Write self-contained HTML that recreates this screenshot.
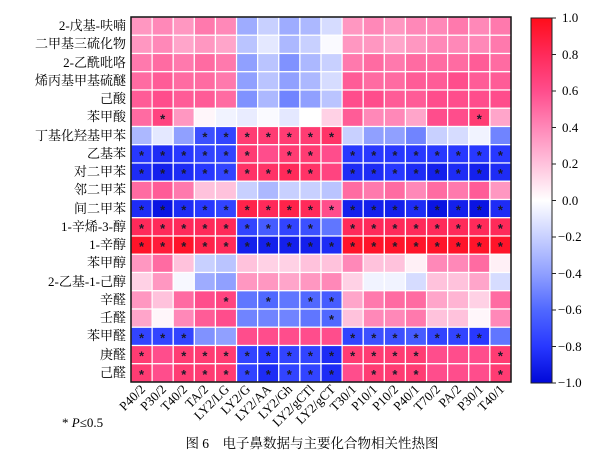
<!DOCTYPE html>
<html><head><meta charset="utf-8"><style>
body{margin:0;background:#fff;width:611px;height:461px;overflow:hidden}
svg{display:block}
.rl{font-family:"Liberation Serif","Noto Serif CJK SC",serif;font-size:13px;text-anchor:end}
.cl{font-family:"Liberation Serif",serif;font-size:13px}
</style></head><body>
<svg id="s" width="611" height="461" xmlns="http://www.w3.org/2000/svg">
<defs><linearGradient id="cb" x1="0" y1="0" x2="0" y2="1">
<stop offset="0" stop-color="#ff0d1a"/><stop offset="0.1" stop-color="#ff2a5a"/><stop offset="0.2" stop-color="#ff4d8c"/><stop offset="0.3" stop-color="#ff88b8"/><stop offset="0.4" stop-color="#ffc2dc"/><stop offset="0.5" stop-color="#ffffff"/><stop offset="0.6" stop-color="#c8d0ff"/><stop offset="0.7" stop-color="#90a0ff"/><stop offset="0.8" stop-color="#5068ff"/><stop offset="0.9" stop-color="#2838ff"/><stop offset="1" stop-color="#0008d8"/></linearGradient></defs>
<g id="cells"></g>
<rect x="131" y="17" width="380" height="365" fill="none" stroke="#111" stroke-width="1.5"/>
<g class="rl">
<text x="126" y="30">2-戊基-呋喃</text><text x="126" y="48">二甲基三硫化物</text><text x="126" y="67">2-乙酰吡咯</text><text x="126" y="85">烯丙基甲基硫醚</text><text x="126" y="103">己酸</text><text x="126" y="121">苯甲酸</text><text x="126" y="140">丁基化羟基甲苯</text><text x="126" y="158">乙基苯</text><text x="126" y="176">对二甲苯</text><text x="126" y="194">邻二甲苯</text><text x="126" y="213">间二甲苯</text><text x="126" y="231">1-辛烯-3-醇</text><text x="126" y="249">1-辛醇</text><text x="126" y="267">苯甲醇</text><text x="126" y="286">2-乙基-1-己醇</text><text x="126" y="304">辛醛</text><text x="126" y="322">壬醛</text><text x="126" y="340">苯甲醛</text><text x="126" y="359">庚醛</text><text x="126" y="377">己醛</text>
</g>
<g class="rl" id="xl">
<text transform="translate(146,390) rotate(-45)">P40/2</text><text transform="translate(167,390) rotate(-45)">P30/2</text><text transform="translate(188,390) rotate(-45)">T40/2</text><text transform="translate(209,390) rotate(-45)">TA/2</text><text transform="translate(230,390) rotate(-45)">LY2/LG</text><text transform="translate(251,390) rotate(-45)">LY2/G</text><text transform="translate(272,390) rotate(-45)">LY2/AA</text><text transform="translate(293,390) rotate(-45)">LY2/Gh</text><text transform="translate(315,390) rotate(-45)">LY2/gCTl</text><text transform="translate(336,390) rotate(-45)">LY2/gCT</text><text transform="translate(357,390) rotate(-45)">T30/1</text><text transform="translate(378,390) rotate(-45)">P10/1</text><text transform="translate(399,390) rotate(-45)">P10/2</text><text transform="translate(420,390) rotate(-45)">P40/1</text><text transform="translate(441,390) rotate(-45)">T70/2</text><text transform="translate(462,390) rotate(-45)">PA/2</text><text transform="translate(484,390) rotate(-45)">P30/1</text><text transform="translate(505,390) rotate(-45)">T40/1</text>
</g>
<rect x="531" y="18" width="21" height="365" fill="url(#cb)" stroke="#222" stroke-width="1"/>
<g stroke="#222" stroke-width="1">
<line x1="552" x2="556" y1="18" y2="18"/><line x1="552" x2="556" y1="54.5" y2="54.5"/><line x1="552" x2="556" y1="91" y2="91"/><line x1="552" x2="556" y1="127.5" y2="127.5"/><line x1="552" x2="556" y1="164" y2="164"/><line x1="552" x2="556" y1="200.5" y2="200.5"/><line x1="552" x2="556" y1="237" y2="237"/><line x1="552" x2="556" y1="273.5" y2="273.5"/><line x1="552" x2="556" y1="310" y2="310"/><line x1="552" x2="556" y1="346.5" y2="346.5"/><line x1="552" x2="556" y1="383" y2="383"/></g>
<g class="cl">
<text x="562" y="22">1.0</text><text x="562" y="59">0.8</text><text x="562" y="95">0.6</text><text x="562" y="132">0.4</text><text x="562" y="168">0.2</text><text x="562" y="205">0.0</text><text x="558" y="241">−0.2</text><text x="558" y="278">−0.4</text><text x="558" y="314">−0.6</text><text x="558" y="351">−0.8</text><text x="558" y="387">−1.0</text>
</g>
<text x="62" y="427" class="cl">* <tspan font-style="italic">P</tspan>≤0.5</text>
<text x="312" y="448" text-anchor="middle" style="font-family:'Liberation Serif','Noto Serif CJK SC',serif;font-size:13.5px">图 6　电子鼻数据与主要化合物相关性热图</text>
</svg>
<script>
var V=[
[.35,.4,.35,.45,.4,-.35,-.2,-.35,-.3,-.15,.35,.4,.35,.4,.4,.45,.4,.45],
[.35,.4,.3,.35,.3,-.25,-.1,-.3,-.2,-.02,.35,.35,.3,.35,.4,.4,.4,.45],
[.45,.5,.45,.5,.45,-.4,-.25,-.45,-.3,-.2,.45,.5,.45,.5,.5,.5,.55,.5],
[.5,.55,.5,.5,.45,-.4,-.25,-.4,-.3,-.15,.55,.5,.5,.55,.55,.6,.55,.55],
[.55,.6,.55,.55,.5,-.45,-.3,-.5,-.4,-.25,.6,.6,.55,.55,.6,.6,.6,.6],
[.5,.65,.35,.03,-.05,-.08,-.02,-.1,0,.15,.55,.4,.4,.3,.6,.6,.7,.3],
[-.3,-.1,-.4,-.7,-.75,.7,.7,.7,.7,.75,-.2,-.4,-.4,-.5,-.2,-.15,-.05,-.5],
[-.8,-.85,-.8,-.75,-.75,.7,.6,.7,.7,.6,-.8,-.8,-.8,-.8,-.8,-.8,-.8,-.8],
[-.85,-.9,-.85,-.8,-.75,.75,.75,.8,.75,.65,-.85,-.85,-.8,-.85,-.9,-.85,-.9,-.85],
[.5,.55,.45,.2,.2,-.2,-.3,-.2,-.2,-.25,.5,.45,.5,.4,.5,.45,.55,.35],
[-.85,-.95,-.85,-.8,-.75,.85,.8,.85,.8,.6,-.9,-.9,-.9,-.85,-.95,-.9,-.95,-.85],
[.8,.8,.8,.8,.8,-.75,-.65,-.75,-.7,-.55,.8,.8,.8,.8,.8,.8,.8,.8],
[.95,.9,.95,.85,.8,-.9,-.9,-.9,-.9,-.85,.95,.95,.95,.95,.95,.95,.95,.95],
[.35,.5,.2,-.2,-.25,.2,.15,.15,.2,.2,.4,.2,.2,.05,.4,.4,.5,.05],
[.15,.35,-.03,-.35,-.4,.35,.35,.3,.35,.4,.15,-.05,-.05,-.15,.2,.2,.3,-.15],
[.35,.2,.5,.6,.65,-.55,-.6,-.55,-.6,-.65,.3,.45,.5,.5,.3,.25,.15,.5],
[.3,.03,.4,.55,.6,-.5,-.5,-.5,-.55,-.6,.2,.4,.4,.45,.2,.2,.03,.4],
[-.75,-.75,-.75,-.45,-.4,.6,.6,.6,.6,.6,-.75,-.7,-.7,-.65,-.75,-.75,-.8,-.55],
[.7,.6,.7,.7,.7,-.75,-.8,-.75,-.75,-.85,.7,.7,.7,.7,.6,.6,.6,.7],
[.7,.6,.7,.7,.7,-.75,-.85,-.75,-.75,-.85,.6,.7,.7,.7,.6,.6,.6,.7]];
var S={5:[1,16],6:[3,4,5,6,7,8,9],7:[0,1,2,3,4,5,7,8,10,11,12,13,14,15,16,17],8:[0,1,2,3,4,5,6,7,8,10,11,12,13,14,15,16,17],
10:'all',11:[0,1,2,3,4,5,6,7,8,10,11,12,13,14,15,16,17],12:'all',15:[4,6,8,9],16:[9],17:[0,1,2,10,11,12,13,14,15,16],
18:[0,2,3,4,5,6,7,8,9,10,11,12,13,17],19:[0,2,3,4,5,6,7,8,9,11,12,13,17]};
var st=[[1,[255,13,26]],[.8,[255,42,90]],[.6,[255,77,140]],[.4,[255,136,184]],[.2,[255,194,220]],[0,[255,255,255]],[-.2,[200,208,255]],[-.4,[144,160,255]],[-.6,[80,104,255]],[-.8,[40,56,255]],[-1,[0,8,216]]];
function col(v){for(var i=0;i<st.length-1;i++){var a=st[i],b=st[i+1];if(v<=a[0]&&v>=b[0]){var t=(a[0]-v)/(a[0]-b[0]);return 'rgb('+a[1].map(function(c,k){return Math.round(c+(b[1][k]-c)*t)}).join(',')+')';}}return '#fff';}
var g=document.getElementById('cells'),h='',w=380/18,hh=365/20;
for(var r=0;r<20;r++)for(var c=0;c<18;c++){var x=131+c*w,y=17+r*hh;
h+='<rect x="'+x+'" y="'+y+'" width="'+w+'" height="'+hh+'" fill="'+col(V[r][c])+'" stroke="#fff" stroke-width="1.2"/>';
var s=S[r];if(s&&(s==='all'||s.indexOf(c)>=0))h+='<text x="'+(x+w/2)+'" y="'+(y+hh/2+6)+'" text-anchor="middle" font-family="Liberation Sans,sans-serif" font-size="13" font-weight="bold" fill="#1a1a2a">*</text>';}
g.innerHTML=h;
</script>
</body></html>
